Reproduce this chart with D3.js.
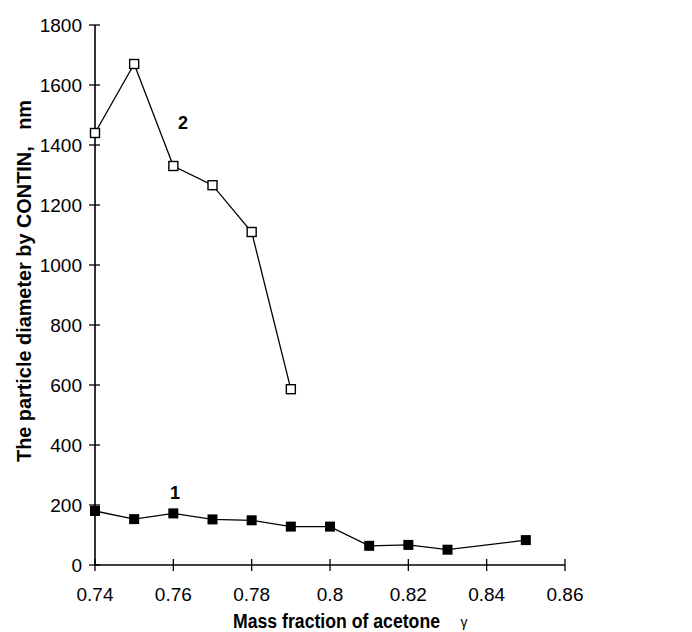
<!DOCTYPE html>
<html>
<head>
<meta charset="utf-8">
<script src="https://cdn.jsdelivr.net/npm/d3@7"></script>
<style>
  body { margin: 0; background: #fff; }
  text { font-family: "Liberation Sans", Arial, sans-serif; }
</style>
</head>
<body>
<svg id="chart" width="692" height="632"></svg>
<script>
var xTicks = [0.74, 0.76, 0.78, 0.8, 0.82, 0.84, 0.86];
var yTicks = [0, 200, 400, 600, 800, 1000, 1200, 1400, 1600, 1800];

var x1 = [0.74, 0.75, 0.76, 0.77, 0.78, 0.79, 0.80, 0.81, 0.82, 0.83, 0.85];
var y1 = [180, 153, 172, 152, 149, 128, 128, 64, 67, 51, 83];

var x2 = [0.74, 0.75, 0.76, 0.77, 0.78, 0.79];
var y2 = [1440, 1670, 1330, 1266, 1110, 586];

var svg = d3.select("#chart");

var x = d3.scaleLinear().domain([0.74, 0.86]).range([95, 565]);
var y = d3.scaleLinear().domain([0, 1800]).range([565, 25]);

// y axis
var yAxis = svg.append("g").attr("transform", "translate(95,0)");
yAxis.append("line")
    .attr("x1", 0).attr("x2", 0)
    .attr("y1", y(0)).attr("y2", y(1800))
    .attr("stroke", "#000").attr("stroke-width", 1.6);
yAxis.selectAll("line.tick")
    .data(yTicks)
    .enter().append("line")
    .attr("class", "tick")
    .attr("x1", -6).attr("x2", 5)
    .attr("y1", function(d) { return y(d); })
    .attr("y2", function(d) { return y(d); })
    .attr("stroke", "#000").attr("stroke-width", 1.3);
yAxis.selectAll("text")
    .data(yTicks)
    .enter().append("text")
    .attr("x", -13)
    .attr("y", function(d) { return y(d); })
    .attr("dy", "0.36em")
    .attr("text-anchor", "end")
    .attr("font-size", "19px")
    .text(function(d) { return d; });

// x axis
var xAxis = svg.append("g").attr("transform", "translate(0," + y(0) + ")");
xAxis.append("line")
    .attr("x1", x(0.74)).attr("x2", x(0.86))
    .attr("y1", 0).attr("y2", 0)
    .attr("stroke", "#000").attr("stroke-width", 1.6);
xAxis.selectAll("line.tick")
    .data(xTicks)
    .enter().append("line")
    .attr("class", "tick")
    .attr("x1", function(d) { return x(d); })
    .attr("x2", function(d) { return x(d); })
    .attr("y1", -6).attr("y2", 6)
    .attr("stroke", "#000").attr("stroke-width", 1.3);
xAxis.selectAll("text")
    .data(xTicks)
    .enter().append("text")
    .attr("x", function(d) { return x(d); })
    .attr("y", 36)
    .attr("text-anchor", "middle")
    .attr("font-size", "19px")
    .text(function(d) { return d; });

// titles
svg.append("text")
    .attr("transform", "translate(31,281) rotate(-90)")
    .attr("text-anchor", "middle")
    .attr("font-size", "21px")
    .attr("font-weight", "bold")
    .attr("textLength", 362)
    .attr("lengthAdjust", "spacingAndGlyphs")
    .style("white-space", "pre")
    .text("The particle diameter by CONTIN,   nm");

svg.append("text")
    .attr("transform", "translate(233,628) scale(1,1.1)")
    .attr("font-size", "19px")
    .attr("font-weight", "bold")
    .attr("textLength", 207)
    .attr("lengthAdjust", "spacingAndGlyphs")
    .text("Mass fraction of acetone");
svg.append("text")
    .attr("x", 464).attr("y", 627)
    .attr("text-anchor", "middle")
    .attr("font-size", "14px")
    .text("γ");

var line = d3.line()
    .x(function(d) { return x(d[0]); })
    .y(function(d) { return y(d[1]); });

var s1 = d3.zip(x1, y1);
var s2 = d3.zip(x2, y2);

svg.append("path").datum(s1)
    .attr("d", line).attr("fill", "none")
    .attr("stroke", "#000").attr("stroke-width", 1.3);
svg.append("path").datum(s2)
    .attr("d", line).attr("fill", "none")
    .attr("stroke", "#000").attr("stroke-width", 1.3);

svg.selectAll("rect.s1")
    .data(s1)
    .enter().append("rect")
    .attr("class", "s1")
    .attr("x", function(d) { return x(d[0]) - 5; })
    .attr("y", function(d) { return y(d[1]) - 5; })
    .attr("width", 10).attr("height", 10)
    .attr("fill", "#000");

svg.selectAll("rect.s2")
    .data(s2)
    .enter().append("rect")
    .attr("class", "s2")
    .attr("x", function(d) { return x(d[0]) - 4.5; })
    .attr("y", function(d) { return y(d[1]) - 4.5; })
    .attr("width", 9).attr("height", 9)
    .attr("fill", "#fff")
    .attr("stroke", "#000").attr("stroke-width", 1.4);

// curve labels
svg.append("text")
    .attr("x", x(0.7625)).attr("y", y(1455))
    .attr("text-anchor", "middle")
    .attr("font-size", "18px").attr("font-weight", "bold")
    .text("2");
svg.append("text")
    .attr("x", x(0.7604)).attr("y", y(220))
    .attr("text-anchor", "middle")
    .attr("font-size", "18px").attr("font-weight", "bold")
    .text("1");
</script>
</body>
</html>
